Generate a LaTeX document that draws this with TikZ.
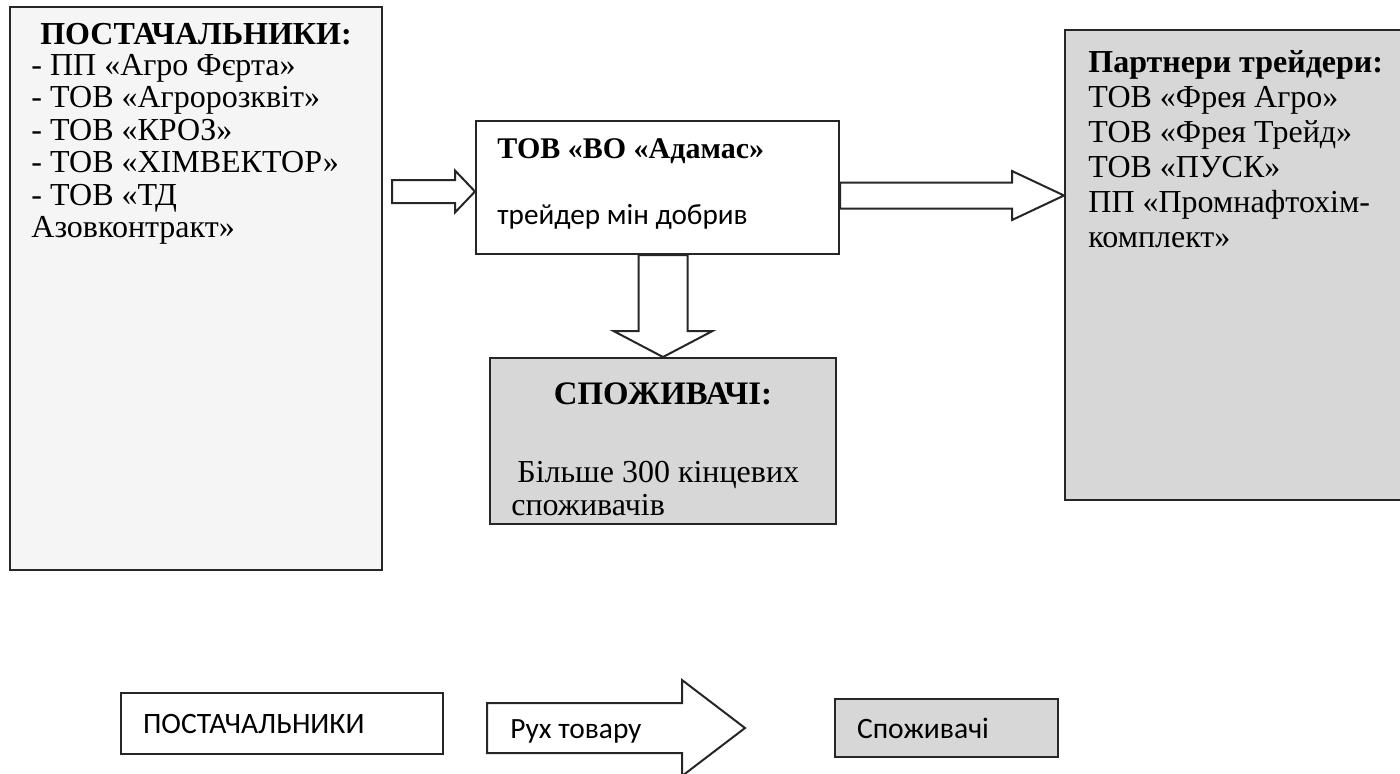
\documentclass[tikz,border=0pt]{standalone}
\usepackage{fontspec}
\setmainfont{Liberation Serif}
\newfontfamily\calibri{Carlito}
\usepackage{tikz}
\usetikzlibrary{calc}

\definecolor{linegray}{HTML}{262626}
\definecolor{panelgray}{HTML}{D7D7D7}
\definecolor{leftgray}{HTML}{F5F5F5}

% block arrows: tail, tip, half shaft, half head, head length
\newcommand{\blockright}[5]{%
  \draw[blockarrow] ($(#1)+(0,-#3)$) -- ($(#2)+(-#5,-#3)$) -- ($(#2)+(-#5,-#4)$) -- (#2)
    -- ($(#2)+(-#5,#4)$) -- ($(#2)+(-#5,#3)$) -- ($(#1)+(0,#3)$) -- cycle;}
\newcommand{\blockdown}[5]{%
  \draw[blockarrow] ($(#1)+(-#3,0)$) -- ($(#2)+(-#3,-#5)$) -- ($(#2)+(-#4,-#5)$) -- (#2)
    -- ($(#2)+(#4,-#5)$) -- ($(#2)+(#3,-#5)$) -- ($(#1)+(#3,0)$) -- cycle;}

\begin{document}
\begin{tikzpicture}[x=0.5pt,y=-0.5pt,
	box/.style={draw=linegray,line width=1pt,rectangle,inner sep=0pt},
	legbox/.style={draw=linegray,line width=0.8pt,rectangle,inner xsep=11pt,inner ysep=0pt,align=left,font=\calibri\fontsize{14.8}{16}\selectfont},
	serif/.style={inner sep=0pt,font=\fontsize{16}{16.2}\selectfont},
	blockarrow/.style={draw=linegray,line width=1pt,fill=white,line join=miter}]
	\useasboundingbox (0,0) rectangle (1400,773);

	\draw (196,288.5) node (post) [box,fill=leftgray,minimum width=186pt,minimum height=281.5pt] {};
	\node (posttitle) [serif,anchor=base] at ([shift={(0,38)}]post.north) {\textbf{ПОСТАЧАЛЬНИКИ:}};
	\node (postlist) [serif,anchor=north west,align=left] at ([shift={(22,48)}]post.north west) {- ПП «Агро Фєрта»\\- ТОВ «Агророзквіт»\\- ТОВ «КРОЗ»\\- ТОВ «ХІМВЕКТОР»\\- ТОВ «ТД\\Азовконтракт»};

	\draw (657.5,187.5) node (adamas) [box,fill=white,minimum width=181.5pt,minimum height=66.5pt] {};
	\node (adamasname) [serif,anchor=base west,font=\fontsize{15}{16}\selectfont] at ([shift={(22,38)}]adamas.north west) {\textbf{ТОВ «ВО «Адамас»}};
	\node (adamasrole) [serif,anchor=base west,font=\calibri\fontsize{14.6}{16}\selectfont] at ([shift={(22,104)}]adamas.north west) {трейдер мін добрив};

	\draw (663,441) node (cons) [box,fill=panelgray,minimum width=173pt,minimum height=83pt] {};
	\node (constitle) [serif,anchor=base,font=\fontsize{16.4}{17}\selectfont] at ([shift={(0,47)}]cons.north) {\textbf{СПОЖИВАЧІ:}};
	\node (conslist) [serif,anchor=north west,align=left,font=\fontsize{16}{16.5}\selectfont] at ([shift={(22,104)}]cons.north west) {\hspace*{3pt}Більше 300 кінцевих\\споживачів};

	\draw (1235,265) node (partners) [box,fill=panelgray,minimum width=170pt,minimum height=235pt] {};
	\node (partnerlist) [serif,anchor=north west,align=left,font=\fontsize{16}{17.5}\selectfont] at ([shift={(24,21)}]partners.north west) {\textbf{Партнери трейдери:}\\ТОВ «Фрея Агро»\\ТОВ «Фрея Трейд»\\ТОВ «ПУСК»\\ПП «Промнафтохім-\\комплект»};

	\path (post.east |- adamas.west) ++(9,4) coordinate (intail);
	\path (adamas.west |- intail) coordinate (intip);
	\blockright{intail}{intip}{11.5}{21}{20}
	\path (adamas.east) ++(0,8) coordinate (outtail);
	\path (partners.west |- outtail) coordinate (outtip);
	\blockright{outtail}{outtip}{13}{24.5}{52}
	\path (cons.north |- adamas.south) coordinate (downtail);
	\blockdown{downtail}{cons.north}{24.5}{49.5}{26}

	\draw (282,723.5) node (lpost) [legbox,fill=white,minimum height=30.5pt,text width=139pt] {ПОСТАЧАЛЬНИКИ};
	\coordinate (ltail) at (487,728);
	\coordinate (ltip) at (745,728);
	\blockright{ltail}{ltip}{25}{48}{63}
	\node (move) [anchor=base west,inner sep=0pt,font=\calibri\fontsize{14.7}{16}\selectfont] at ($(ltail)+(23,10)$) {Рух товару};
	\draw (946.5,728) node (lcons) [legbox,fill=panelgray,minimum height=29pt,text width=89.5pt] {Споживачі};
\end{tikzpicture}
\end{document}
